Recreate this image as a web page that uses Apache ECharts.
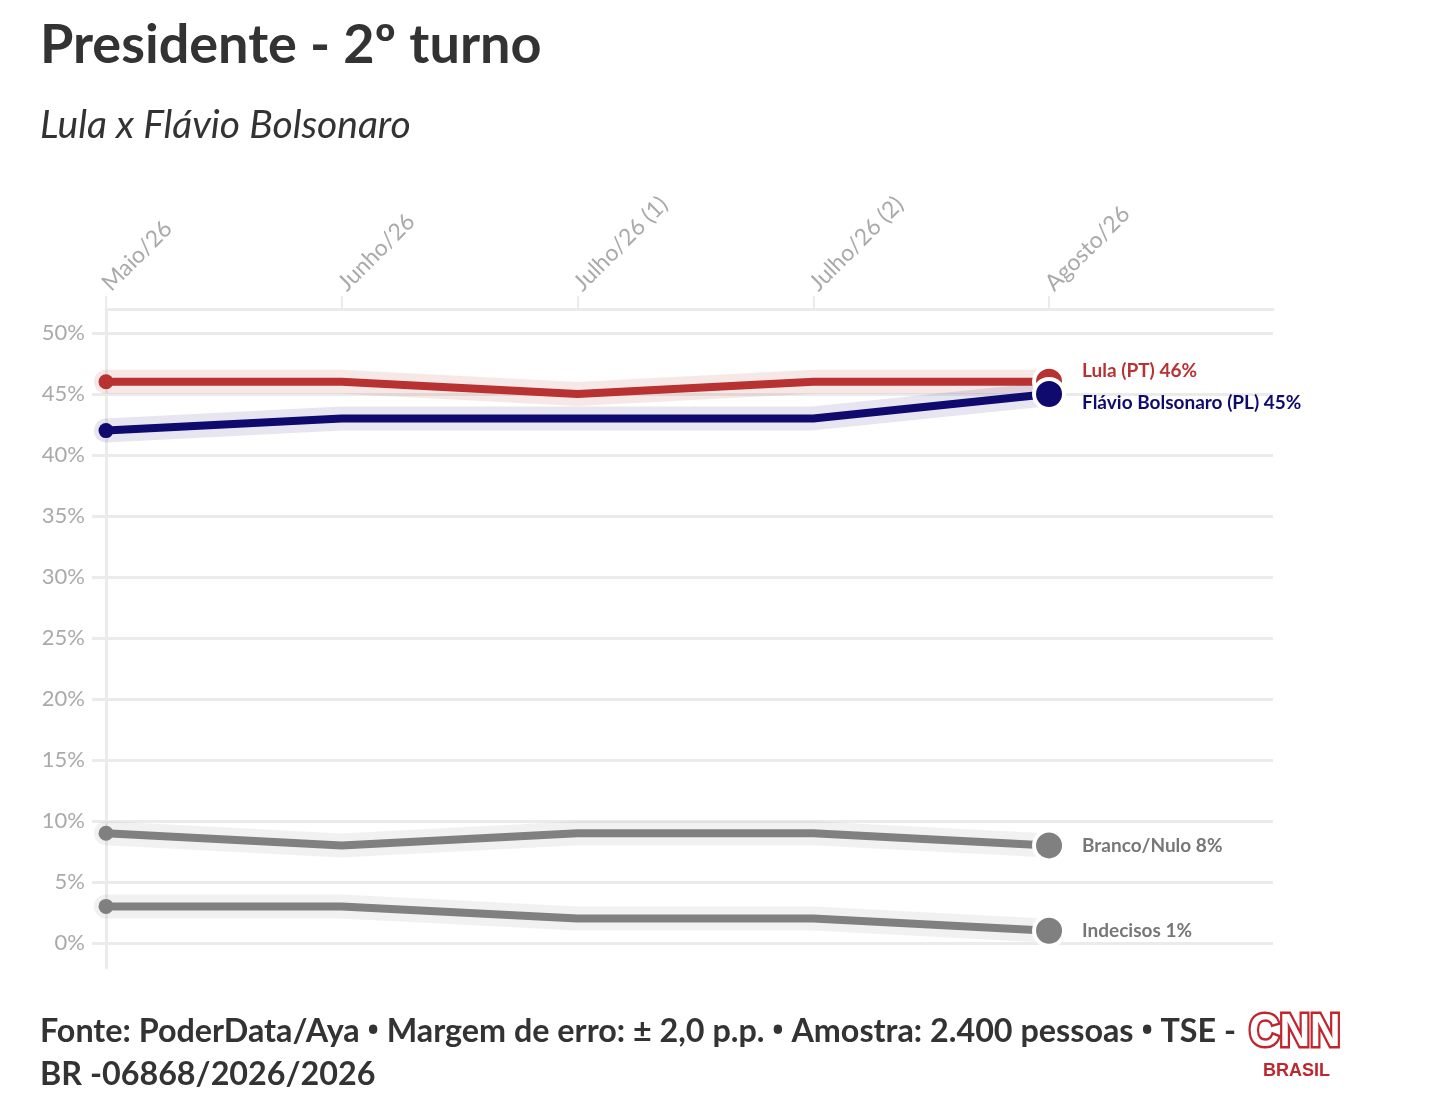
<!DOCTYPE html>
<html>
<head>
<meta charset="utf-8">
<script src="https://cdn.jsdelivr.net/npm/echarts@6/dist/echarts.min.js"></script>
<style>
html,body{margin:0;padding:0;background:#fff;}
#chart{width:1440px;height:1118px;}
</style>
</head>
<body>
<div id="chart"></div>
<script>
// ---- data ----
const categories = ['Maio/26', 'Junho/26', 'Julho/26 (1)', 'Julho/26 (2)', 'Agosto/26'];
const lula = [46, 46, 45, 46, 46];
const flavio = [42, 43, 43, 43, 45];
const brancoNulo = [9, 8, 9, 9, 8];
const indecisos = [3, 3, 2, 2, 1];
const seriesNames = ['Lula (PT)', 'Flávio Bolsonaro (PL)', 'Branco/Nulo', 'Indecisos'];
const yTicks = [0, 5, 10, 15, 20, 25, 30, 35, 40, 45, 50];
const footerParts = ['Fonte: PoderData/Aya', 'Margem de erro: ± 2,0 p.p.', 'Amostra: 2.400 pessoas', 'TSE -\nBR -06868/2026/2026'];

// ---- styles ----
const FONT = 'Lato';
const styles = [
  { color: '#b83232', band: 'rgba(184,50,50,0.11)', labelOffset: [0, -11] },
  { color: '#0f0a6e', band: 'rgba(15,10,110,0.10)', labelOffset: [0, 9] },
  { color: '#808080', band: 'rgba(128,128,128,0.11)', labelOffset: [0, 0] },
  { color: '#808080', band: 'rgba(128,128,128,0.11)', labelOffset: [0, 0] }
];
const allValues = [lula, flavio, brancoNulo, indecisos];
const X_MAX = 4.95;
const gridColor = '#ebebeb';
const catIdx = categories.map((c, i) => i);

const chart = echarts.init(document.getElementById('chart'));

const bandSeries = allValues.map((vals, k) => ({
  type: 'line',
  xAxisIndex: 1, yAxisIndex: 1,
  data: vals.map((v, i) => [i, v]),
  symbol: 'none',
  silent: true,
  lineStyle: { width: 24, color: styles[k].band, cap: 'round', join: 'round' },
  z: 2
}));

const order = [3, 2, 0, 1];
const mainSeries = order.map((k, n) => {
  const vals = allValues[k];
  const last = vals.length - 1;
  return {
    type: 'line',
    name: seriesNames[k],
    xAxisIndex: 1, yAxisIndex: 1,
    z: 3 + n,
    lineStyle: { width: 8, color: styles[k].color, join: 'round' },
    itemStyle: { color: styles[k].color },
    showAllSymbol: true,
    symbol: 'circle',
    data: vals.map((v, i) => {
      const item = { value: [i, v] };
      if (i === 0) {
        item.symbolSize = 15;
        item.itemStyle = { color: styles[k].color, borderWidth: 0 };
      } else if (i === last) {
        item.symbolSize = 30;
        item.itemStyle = { color: styles[k].color, borderColor: '#fff', borderWidth: 4 };
        item.label = {
          show: true,
          position: 'right',
          distance: 16,
          offset: styles[k].labelOffset,
          formatter: seriesNames[k] + ' ' + v + '%',
          color: k < 2 ? styles[k].color : '#777',
          fontFamily: FONT,
          fontWeight: 'bold',
          fontSize: 19
        };
      } else {
        item.symbolSize = 0;
      }
      return item;
    })
  };
});

const footerText = footerParts.join(' {b|•} ');

const option = {
  backgroundColor: '#fff',
  animation: false,
  title: [
    { text: 'Presidente - 2º turno', left: 40, top: 19, padding: 0,
      textStyle: { fontFamily: FONT, fontWeight: 'bold', fontSize: 54, color: '#333' } },
    { text: 'Lula x Flávio Bolsonaro', left: 40, top: 106, padding: 0,
      textStyle: { fontFamily: FONT, fontStyle: 'italic', fontWeight: 'normal', fontSize: 39, color: '#333' } },
    { text: footerText,
      left: 40, top: 1010, padding: 0,
      textStyle: { fontFamily: FONT, fontWeight: 'bold', fontSize: 32.3, lineHeight: 43, color: '#333',
        rich: { b: { fontFamily: 'Open Sans', fontWeight: 'bold', fontSize: 30, lineHeight: 43, color: '#333' } } } }
  ],
  graphic: [
    { type: 'text', x: 1249, y: 1010, scaleX: 0.9,
      style: { text: 'CNN', font: 'bold 47px "Liberation Sans"', fill: '#fff',
        stroke: '#c0262d', lineWidth: 5 } },
    { type: 'text', x: 1263, y: 1062,
      style: { text: 'BRASIL', font: 'bold 18px "Liberation Sans"', fill: '#c0262d' } }
  ],
  grid: [
    { left: 106, right: 1440 - 1273, top: 309, bottom: 1118 - 968 },
    { left: 106, right: 1440 - 1273, top: 333, bottom: 1118 - 943 }
  ],
  xAxis: [
    {
      gridIndex: 0, type: 'value', position: 'top', min: 0, max: X_MAX, interval: 1,
      axisLine: { show: true, onZero: false, lineStyle: { color: gridColor, width: 3 } },
      axisTick: { show: true, length: 13, customValues: catIdx, lineStyle: { color: gridColor, width: 2 } },
      axisLabel: { rotate: -45, margin: 22, color: '#aaa', fontFamily: FONT, fontSize: 23,
        customValues: catIdx, formatter: v => categories[Math.round(v)] },
      splitLine: { show: false }
    },
    {
      gridIndex: 1, type: 'value', min: 0, max: X_MAX, show: false
    }
  ],
  yAxis: [
    {
      gridIndex: 0, type: 'value', min: 0, max: 1,
      axisLine: { show: true, onZero: false, lineStyle: { color: gridColor, width: 3 } },
      axisTick: { show: false }, axisLabel: { show: false }, splitLine: { show: false }
    },
    {
      gridIndex: 1, type: 'value', min: yTicks[0], max: yTicks[yTicks.length - 1], interval: 5,
      axisLine: { show: false },
      axisTick: { show: true, length: 14, lineStyle: { color: gridColor, width: 3 } },
      axisLabel: { margin: 21, color: '#aaa', fontFamily: FONT, fontSize: 22, formatter: '{value}%' },
      splitLine: { show: true, lineStyle: { color: gridColor, width: 3 } }
    }
  ],
  series: bandSeries.concat(mainSeries)
};
chart.setOption(option);
</script>
</body>
</html>
